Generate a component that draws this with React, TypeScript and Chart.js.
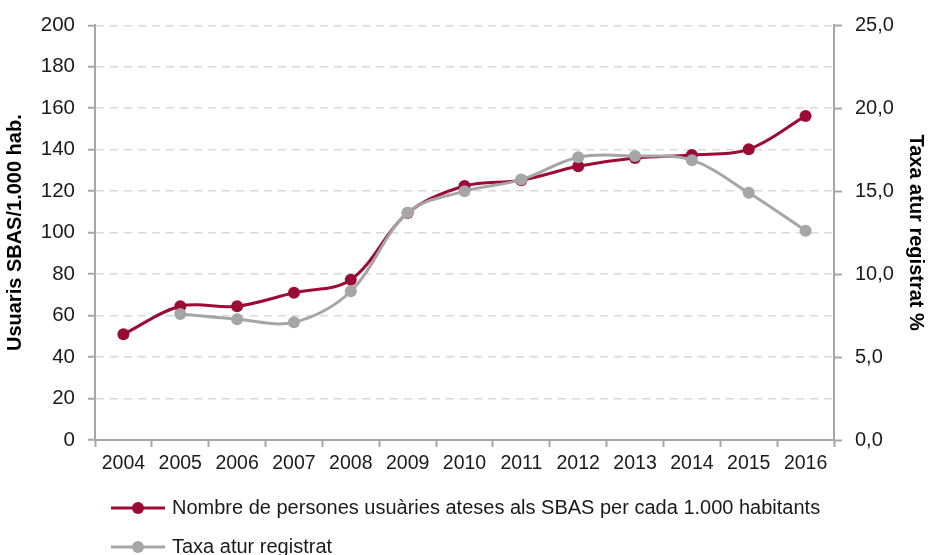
import React, { useEffect, useRef } from "react";
import { Chart, registerables } from "chart.js";

Chart.register(...registerables);

const years = ["2004", "2005", "2006", "2007", "2008", "2009", "2010", "2011", "2012", "2013", "2014", "2015", "2016"];
const usuarisSBAS = [51, 64.5, 64.5, 71, 77.3, 109.5, 122.5, 125.3, 132, 136, 137.5, 140.2, 156.3];
const taxaAtur = [null, 7.6, 7.28, 7.1, 8.97, 13.7, 15.0, 15.7, 17.05, 17.12, 16.87, 14.9, 12.62];
const leftMax = 200;
const leftStep = 20;
const rightMax = 25;
const rightStep = 5;

const labelSBAS = "Nombre de persones usuàries ateses als SBAS per cada 1.000 habitants";
const labelAtur = "Taxa atur registrat";
const titleLeft = "Usuaris SBAS/1.000 hab.";
const titleRight = "Taxa atur registrat %";

const RED = "#9c0a36";
const GREY = "#a6a6a6";
const AXIS = "#a6a6a6";
const FONT = "'Liberation Sans', Arial, sans-serif";

const legendPlugin = {
  id: "customLegend",
  afterDraw(chart: any) {
    const { ctx, chartArea } = chart;
    const items = chart.data.datasets;
    items.forEach((ds: any, i: number) => {
      const y = chartArea.bottom + 68 + i * 39;
      const x0 = chartArea.left + 16;
      ctx.save();
      ctx.strokeStyle = ds.borderColor;
      ctx.lineWidth = 3;
      ctx.beginPath();
      ctx.moveTo(x0, y);
      ctx.lineTo(x0 + 54, y);
      ctx.stroke();
      ctx.fillStyle = ds.borderColor;
      ctx.beginPath();
      ctx.arc(x0 + 27, y, 6, 0, Math.PI * 2);
      ctx.fill();
      ctx.fillStyle = "#1a1a1a";
      ctx.font = `20px ${FONT}`;
      ctx.textBaseline = "middle";
      ctx.textAlign = "left";
      ctx.fillText(ds.label, x0 + 61, y);
      ctx.restore();
    });
  },
};

export default function App() {
  const ref = useRef<HTMLCanvasElement | null>(null);

  useEffect(() => {
    if (!ref.current) return;
    const chart = new Chart(ref.current, {
      type: "line",
      data: {
        labels: years,
        datasets: [
          {
            label: labelSBAS,
            data: usuarisSBAS,
            yAxisID: "y",
            borderColor: RED,
            backgroundColor: RED,
            borderWidth: 3,
            pointRadius: 6,
            pointBorderWidth: 0,
            pointBackgroundColor: RED,
            tension: 0.35,
            order: 1,
          },
          {
            label: labelAtur,
            data: taxaAtur,
            yAxisID: "y1",
            borderColor: GREY,
            backgroundColor: GREY,
            borderWidth: 3,
            pointRadius: 6,
            pointBorderWidth: 0,
            pointBackgroundColor: GREY,
            tension: 0.35,
            order: 0,
          },
        ],
      },
      options: {
        animation: false,
        responsive: false,
        maintainAspectRatio: false,
        layout: { padding: { top: 24, left: 0, right: 0, bottom: 0 } },
        plugins: {
          legend: { display: false },
          tooltip: { enabled: false },
        },
        scales: {
          x: {
            offset: true,
            grid: {
              offset: true,
              drawOnChartArea: false,
              drawTicks: true,
              tickLength: 7,
              tickColor: AXIS,
              tickWidth: 2,
            },
            border: { display: true, color: AXIS, width: 2 },
            ticks: {
              color: "#1a1a1a",
              font: { family: FONT, size: 19.5 },
              padding: 5,
              maxRotation: 0,
              autoSkip: false,
            },
            afterFit(scale: any) {
              scale.height = 115;
            },
          },
          y: {
            position: "left",
            min: 0,
            max: leftMax,
            ticks: {
              stepSize: leftStep,
              color: "#1a1a1a",
              font: { family: FONT, size: 20.5 },
              padding: 13,
            },
            grid: {
              color: "#d9d9d9",
              lineWidth: 1.5,
              drawOnChartArea: true,
              drawTicks: true,
              tickLength: 7,
              tickColor: AXIS,
              tickWidth: 2,
              tickBorderDash: [],
            },
            border: { display: true, color: AXIS, width: 2, dash: [8, 6] },
            title: {
              display: true,
              text: titleLeft,
              color: "#000",
              font: { family: FONT, size: 20, weight: "bold" },
              padding: { top: 3, bottom: 0 },
            },
            afterFit(scale: any) {
              scale.width = 95;
            },
          },
          y1: {
            position: "right",
            min: 0,
            max: rightMax,
            ticks: {
              stepSize: rightStep,
              color: "#1a1a1a",
              font: { family: FONT, size: 20 },
              padding: 13,
              callback: (v: any) => Number(v).toFixed(1).replace(".", ","),
            },
            grid: {
              drawOnChartArea: false,
              drawTicks: true,
              tickLength: 8,
              tickColor: AXIS,
              tickWidth: 2,
            },
            border: { display: true, color: AXIS, width: 2 },
            title: {
              display: true,
              text: titleRight,
              color: "#000",
              font: { family: FONT, size: 20, weight: "bold" },
              padding: { top: 0, bottom: 0 },
            },
            afterFit(scale: any) {
              scale.width = 94;
            },
          },
        },
      },
      plugins: [legendPlugin],
    });
    return () => chart.destroy();
  }, []);

  return (
    <div style={{ position: "absolute", left: 0, top: 0, width: 928, height: 555, background: "#fff" }}>
      <canvas ref={ref} width={928} height={555} style={{ width: 928, height: 555, display: "block" }} />
    </div>
  );
}
